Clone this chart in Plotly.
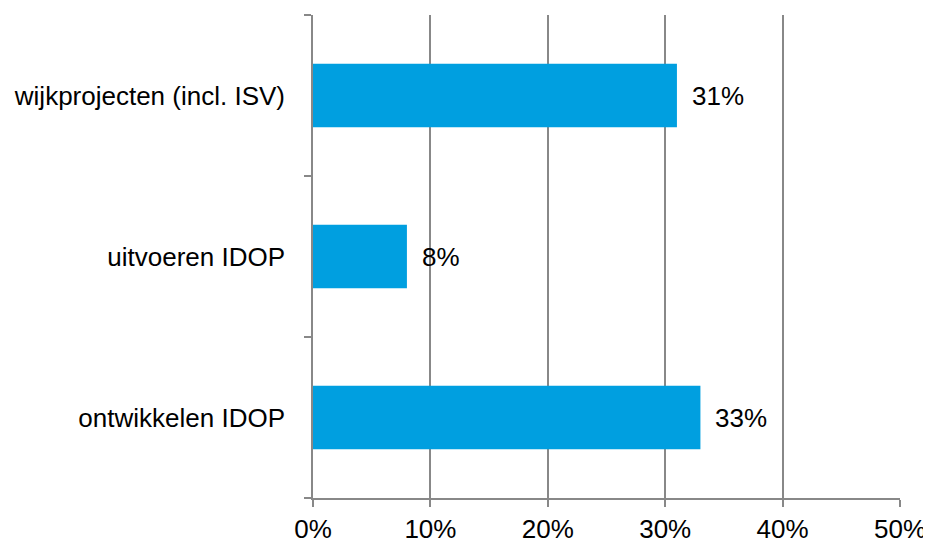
import plotly.graph_objects as go

categories = ["ontwikkelen IDOP", "uitvoeren IDOP", "wijkprojecten (incl. ISV)"]
values = [33, 8, 31]
value_labels = ["33%", "8%", "31%"]
x_tickvals = [0, 10, 20, 30, 40, 50]
x_ticktext = ["0%", "10%", "20%", "30%", "40%", "50%"]

GRAY = "#888888"
LW = 1.6
FONT = "Liberation Sans, Arial, sans-serif"

fig = go.Figure()
fig.add_trace(go.Bar(
    x=values, y=categories, orientation="h",
    marker=dict(color="#009FE0", line=dict(width=0)),
    hoverinfo="skip",
))

for v, c, t in zip(values, categories, value_labels):
    fig.add_annotation(x=v, y=c, text=t, showarrow=False, xanchor="left",
                       xshift=13, font=dict(size=26, color="#000000", family=FONT))

fig.update_layout(
    width=923, height=539,
    margin=dict(l=305, r=31, t=7, b=49, autoexpand=False),
    paper_bgcolor="white", plot_bgcolor="white",
    bargap=0.605,
    showlegend=False,
    font=dict(family=FONT, size=26, color="#000000"),
    xaxis=dict(
        range=[0, 50], tickvals=x_tickvals, ticktext=x_ticktext,
        showgrid=True, gridcolor=GRAY, gridwidth=LW,
        showline=True, linecolor=GRAY, linewidth=LW,
        ticks="outside", ticklen=7, tickcolor=GRAY, tickwidth=LW,
        zeroline=False, fixedrange=True, automargin=False,
    ),
    yaxis=dict(
        showline=True, linecolor=GRAY, linewidth=LW,
        ticks="outside", ticklen=7, tickcolor=GRAY, tickwidth=LW,
        tickson="boundaries", showgrid=False, ticklabelstandoff=21,
        fixedrange=True, automargin=False,
    ),
)

fig.write_html("out.html")
